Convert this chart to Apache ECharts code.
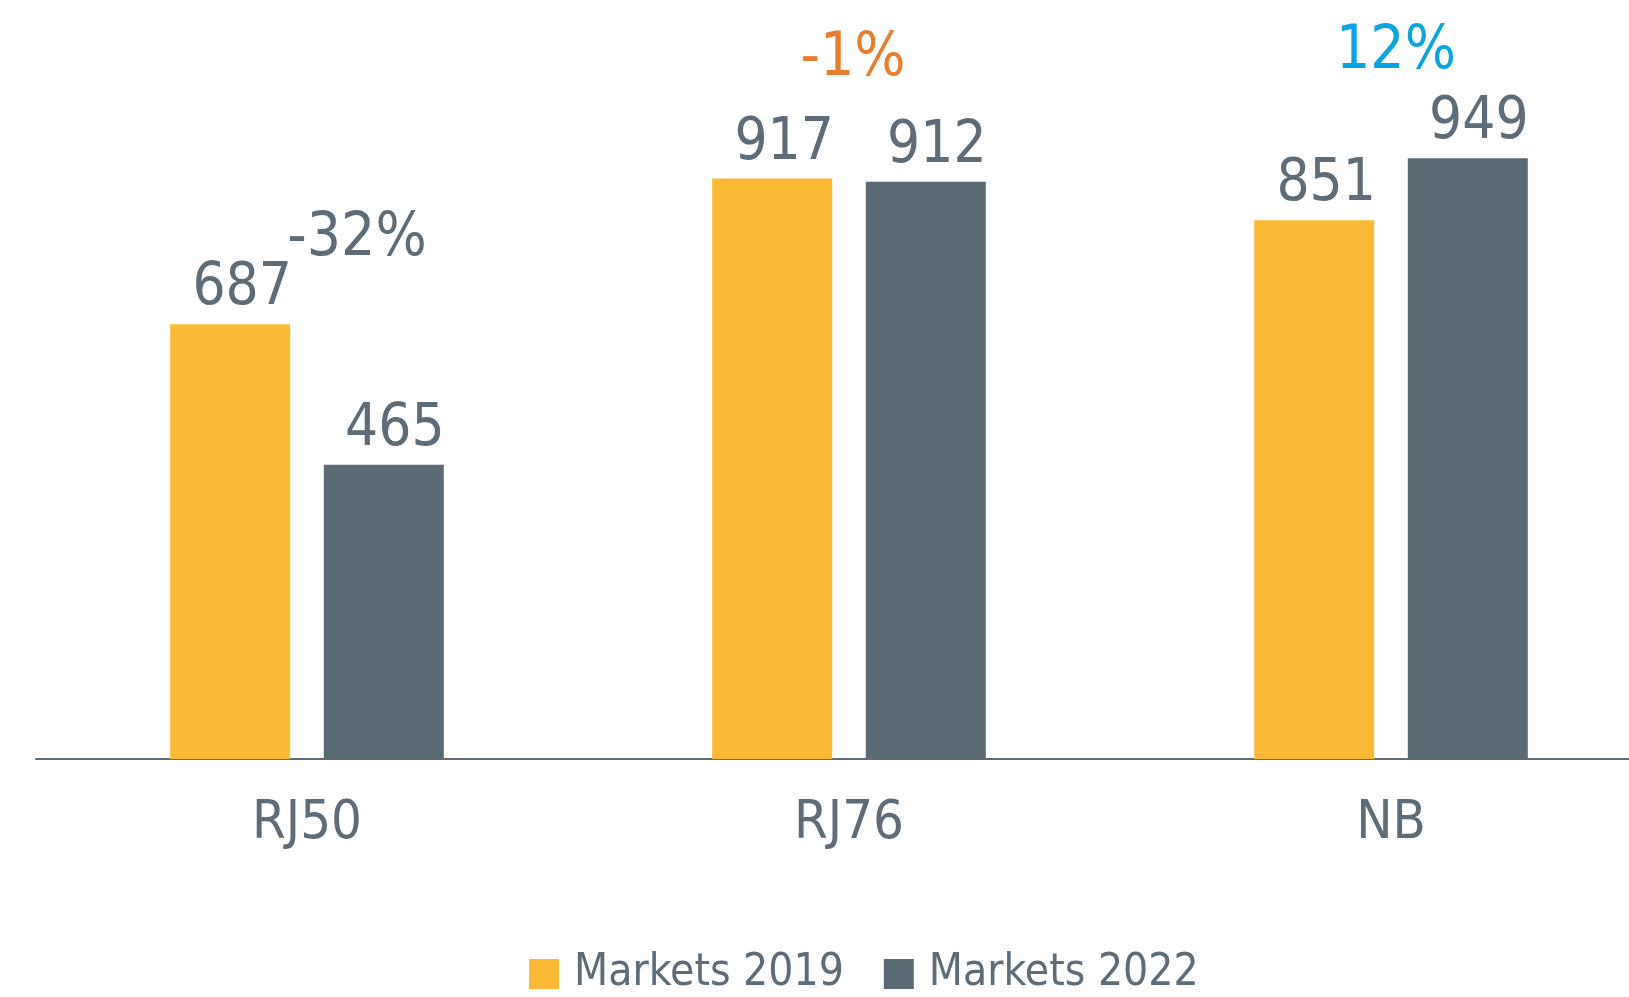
<!DOCTYPE html>
<html>
<head>
<meta charset="utf-8">
<script src="https://cdn.jsdelivr.net/npm/echarts@6/dist/echarts.min.js"></script>
<style>
  html, body { margin: 0; padding: 0; background: #fff; }
  #chart { width: 1629px; height: 997px; }
</style>
</head>
<body>
<div id="chart"></div>
<script>
  // 数据
  var categories = ['RJ50', 'RJ76', 'NB'];
  var markets2019 = [687, 917, 851];
  var markets2022 = [465, 912, 949];
  var changeLabels = ['-32%', '-1%', '12%'];
  var changeColors = ['#5d6c76', '#e87d2e', '#0aa5e0'];

  var FONT = '"DejaVu Sans Condensed", "Liberation Sans Narrow", "Noto Sans", sans-serif';
  var GREY = '#5d6c76';

  // 变化百分比标签位置偏移（像素）
  var changeOffsets = [[50, -55], [4, -89], [5, -76]];

  var changeData = categories.map(function (c, i) {
    return {
      value: [c, Math.max(markets2019[i], markets2022[i])],
      label: {
        formatter: changeLabels[i],
        color: changeColors[i],
        offset: changeOffsets[i]
      }
    };
  });

  var option = {
    animation: false,
    backgroundColor: '#ffffff',
    textStyle: { fontFamily: FONT },
    grid: { left: 36, width: 1626, top: 126, height: 633, outerBoundsMode: 'none', containLabel: false },
    legend: {
      left: 524,
      top: 947,
      itemWidth: 30,
      itemHeight: 30,
      itemGap: 40,
      icon: 'rect',
      data: ['Markets 2019', 'Markets 2022'],
      textStyle: { fontFamily: FONT, fontSize: 44, color: GREY, padding: [0, 0, 0, 10] }
    },
    xAxis: {
      type: 'category',
      data: categories,
      axisLine: { lineStyle: { color: GREY, width: 2 } },
      axisTick: { show: false },
      axisLabel: { fontFamily: FONT, fontSize: 54, color: GREY, margin: 38 }
    },
    yAxis: {
      type: 'value',
      min: 0,
      max: 1000,
      show: false,
      splitLine: { show: false }
    },
    series: [
      {
        name: 'Markets 2019',
        type: 'bar',
        data: markets2019,
        barWidth: 120,
        barGap: '28%',
        itemStyle: { color: '#fbba36' },
        label: {
          show: true, position: 'top', distance: 6, offset: [12, 0],
          fontFamily: FONT, fontSize: 58, color: GREY
        }
      },
      {
        name: 'Markets 2022',
        type: 'bar',
        data: markets2022,
        barWidth: 120,
        itemStyle: { color: '#5b6b75' },
        label: {
          show: true, position: 'top', distance: 6, offset: [11, 0],
          fontFamily: FONT, fontSize: 58, color: GREY
        }
      },
      {
        name: 'change',
        type: 'scatter',
        symbolSize: 0,
        data: changeData,
        silent: true,
        itemStyle: { opacity: 1 },
        label: {
          show: true, position: 'top', distance: 0,
          fontFamily: FONT, fontSize: 60, lineHeight: 60
        }
      }
    ]
  };

  var myChart = echarts.init(document.getElementById('chart'));
  myChart.setOption(option);
  window.addEventListener('resize', function () { myChart.resize(); });
</script>
</body>
</html>
